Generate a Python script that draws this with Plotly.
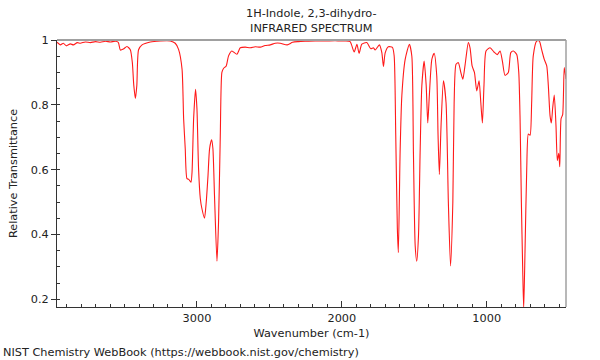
import plotly.graph_objects as go

# Wavenumber (cm-1) and relative transmittance
wavenumber = [
    3966, 3943, 3922, 3902, 3874, 3853, 3826, 3805, 3771, 3736, 3701, 3667, 3632, 3598, 3563, 3543,
    3529, 3508, 3483, 3460, 3446, 3436, 3425, 3415, 3403, 3379, 3322, 3253, 3184, 3150,
    3127, 3103, 3092, 3081, 3069, 3057, 3048, 3041, 3034, 3023, 3010, 3000, 2989, 2977, 2966,
    2948, 2936, 2924, 2913, 2899, 2890, 2879, 2862, 2851, 2839, 2828, 2817, 2798, 2782,
    2759, 2724, 2701, 2667, 2632, 2598, 2563, 2530, 2494, 2460, 2425, 2377, 2340, 2300,
    2253, 2184, 2115, 2046, 2012, 1977, 1943, 1915, 1896, 1881, 1862, 1828, 1800, 1782,
    1770, 1741, 1724, 1713, 1701, 1679, 1651, 1639, 1628, 1617, 1610, 1598, 1586, 1563,
    1534, 1517, 1506, 1494, 1483, 1471, 1460, 1448, 1432, 1418, 1407, 1396, 1379, 1363,
    1345, 1336, 1327, 1315, 1299, 1281, 1265, 1250, 1234, 1225, 1212, 1196, 1179, 1165,
    1149, 1127, 1115, 1101, 1085, 1069, 1053, 1041, 1030, 1019, 1005, 977, 950, 927, 908,
    892, 874, 851, 834, 816, 793, 779, 770, 761, 752, 745, 736, 724, 713, 701, 690, 679,
    655, 637, 621, 603, 586, 575, 563, 554, 545, 534, 522, 513, 503, 496, 487, 476, 465, 453,
]
transmittance = [
    0.993, 0.985, 0.990, 0.982, 0.988, 0.985, 0.992, 0.990, 0.994, 0.992, 0.995, 0.993, 0.996, 0.994, 0.996, 0.993,
    0.969, 0.972, 0.980, 0.970, 0.930, 0.860, 0.820, 0.860, 0.970, 0.985, 0.994, 0.997, 0.997, 0.990,
    0.971, 0.910, 0.757, 0.665, 0.572, 0.570, 0.565, 0.561, 0.592, 0.757, 0.848, 0.787, 0.603, 0.511, 0.480,
    0.450, 0.500, 0.580, 0.664, 0.692, 0.665, 0.520, 0.317, 0.438, 0.705, 0.900, 0.912, 0.920, 0.951,
    0.966, 0.956, 0.976, 0.978, 0.976, 0.979, 0.978, 0.983, 0.985, 0.990, 0.990, 0.985, 0.993, 0.995,
    0.996, 0.997, 0.997, 0.998, 0.997, 0.997, 0.995, 0.963, 0.987, 0.959, 0.987, 0.992, 0.973, 0.976,
    0.969, 0.985, 0.961, 0.918, 0.960, 0.979, 0.977, 0.951, 0.705, 0.418, 0.344, 0.653, 0.828, 0.940,
    0.987, 0.950, 0.653, 0.366, 0.317, 0.397, 0.650, 0.858, 0.935, 0.860, 0.744, 0.830, 0.940, 0.959,
    0.889, 0.705, 0.585, 0.740, 0.874, 0.807, 0.500, 0.303, 0.500, 0.807, 0.925, 0.930, 0.900, 0.879,
    0.925, 0.992, 0.975, 0.920, 0.900, 0.843, 0.874, 0.807, 0.744, 0.860, 0.966, 0.976, 0.963, 0.955, 0.966,
    0.935, 0.891, 0.900, 0.961, 0.966, 0.955, 0.900, 0.757, 0.500, 0.296, 0.170, 0.346, 0.602, 0.710, 0.706, 0.807, 0.951,
    0.997, 0.997, 0.970, 0.940, 0.920, 0.860, 0.766, 0.744, 0.790, 0.830, 0.735, 0.628, 0.650, 0.609, 0.757, 0.770, 0.915, 0.880,
]

x_range = [3966, 453]
y_range = [0.176, 1.0]

fig = go.Figure()
fig.add_trace(go.Scatter(
    x=wavenumber, y=transmittance, mode="lines",
    line=dict(color="#ff1a1a", width=1.1, shape="spline", smoothing=0.6),
    hoverinfo="skip", showlegend=False,
))

font = dict(family="DejaVu Sans", size=11.3, color="#222222")

fig.update_layout(
    width=600, height=360,
    margin=dict(l=57, r=34, t=40, b=53, autoexpand=False),
    paper_bgcolor="white", plot_bgcolor="white",
    font=font,
    xaxis=dict(
        range=x_range, showgrid=False, zeroline=False, automargin=False,
        showline=True, linecolor="#333333", linewidth=1,
        tickmode="array", tickvals=[3000, 2000, 1000],
        ticks="inside", ticklen=6, tickcolor="#333333",
        minor=dict(dtick=100, tick0=0, ticks="inside", ticklen=3, tickcolor="#333333"),
        title=dict(text="Wavenumber (cm-1)", standoff=5, font=font),
        tickfont=font,
    ),
    yaxis=dict(
        range=y_range, showgrid=False, zeroline=False, automargin=False,
        showline=True, linecolor="#333333", linewidth=1,
        tickmode="array", tickvals=[0.2, 0.4, 0.6, 0.8, 1.0], ticktext=["0.2", "0.4", "0.6", "0.8", "1"],
        ticks="outside", ticklen=5, tickcolor="#333333",
        minor=dict(dtick=0.05, tick0=0, ticks="inside", ticklen=3, tickcolor="#333333"),
        title=dict(text="Relative Transmittance", standoff=10, font=font),
        tickfont=font,
    ),
    shapes=[
        dict(type="line", xref="paper", yref="paper", x0=0, x1=1, y0=1, y1=1,
             line=dict(color="#a0a0a0", width=2)),
        dict(type="line", xref="paper", yref="paper", x0=1, x1=1, y0=0, y1=1,
             line=dict(color="#a0a0a0", width=1.5)),
    ],
    annotations=[
        dict(text="1H-Indole, 2,3-dihydro-<br>INFRARED SPECTRUM", xref="paper", yref="paper",
             x=0.5, y=1, yshift=3, xanchor="center", yanchor="bottom", showarrow=False,
             font=font, align="center"),
        dict(text="NIST Chemistry WebBook (https://webbook.nist.gov/chemistry)", xref="paper", yref="paper",
             x=0, y=0, xshift=-56, yshift=-45, xanchor="left", yanchor="middle", showarrow=False,
             font=font, align="left"),
    ],
)

fig.write_html("out.html", config={"displayModeBar": False},
               post_script="document.body.style.margin='0';")
